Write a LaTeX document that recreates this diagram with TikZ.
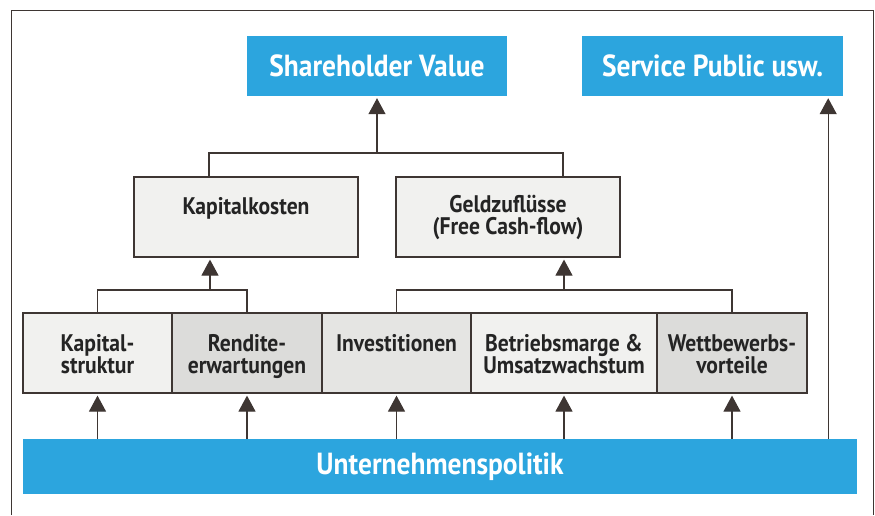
\documentclass[tikz,border=0pt]{standalone}
\usepackage{fontspec}
\newfontfamily\diafont[FakeStretch=0.9]{PT Sans}
\usetikzlibrary{arrows.meta}

\definecolor{svblue}{RGB}{44,165,222}
\definecolor{linecol}{RGB}{62,54,51}
\definecolor{lightfill}{RGB}{241,241,239}
\definecolor{midfill}{RGB}{229,229,227}
\definecolor{darkfill}{RGB}{220,220,218}
\definecolor{textcol}{RGB}{36,36,36}

\tikzset{
  bluebox/.style={fill=svblue, text=white, inner sep=0pt,
    font=\diafont\bfseries\fontsize{30.5}{32}\selectfont},
  graybox/.style={draw=linecol, line width=1.2pt, fill=lightfill, text=textcol,
    inner sep=0pt, align=center, font=\diafont\bfseries\fontsize{24}{22}\selectfont},
  rowbox/.style={graybox, minimum height=80, text height=46pt, text depth=6pt},
  link/.style={draw=linecol, line width=1.2pt},
  tri/.style={link, -{Triangle[width=17pt,length=16pt]}, shorten >=2pt},
}

\begin{document}
\begin{tikzpicture}[x=1pt,y=1pt,yscale=-1]
  \useasboundingbox (0,0) rectangle (875,515);

  %Frame
  \draw [linecol, line width=1pt] (11,515) -- (11,10) -- (873,10) -- (873,515);

  % Text Node
  \node [bluebox, minimum width=260, minimum height=60] (sv) at (377,66) {Shareholder Value};
  % Text Node
  \node [bluebox, minimum width=261, minimum height=60] (sp) at (712.5,66) {Service Public usw.};

  % Text Node
  \node [graybox, minimum width=224, minimum height=80] (kk) at (246,217) {Kapitalkosten\\~};
  % Text Node
  \node [graybox, minimum width=224, minimum height=80] (gz) at (508,217) {Geldzufl\"usse\\(Free Cash-flow)};

  % Text Node
  \node [rowbox, minimum width=149] (ks) at (97.5,353) {Kapital-\\struktur};
  \node [rowbox, fill=darkfill, minimum width=150] (re) at (247,353) {Rendite-\\erwartungen};
  \node [rowbox, fill=midfill, minimum width=149] (inv) at (396.5,353) {Investitionen\\~};
  \node [rowbox, minimum width=186] (bm) at (564,353) {Betriebsmarge \&\\Umsatzwachstum};
  \node [rowbox, fill=darkfill, minimum width=150] (wb) at (732,353) {Wettbewerbs-\\vorteile};

  % Text Node
  \node [bluebox, minimum width=834, minimum height=55] (up) at (440,466.5) {Unternehmenspolitik};

  %Joints
  \coordinate (j1) at (377,153);
  \coordinate (j2) at (210,290);
  \coordinate (j3) at (564,290);
  \coordinate (spin) at ([xshift=-15pt]sp.south east);

  %Straight Lines
  \draw [link] ([xshift=-37pt]kk.north) |- (j1) -| ([xshift=55pt]gz.north);
  \draw [tri] (j1) -- (sv.south);
  \draw [link] (ks.north) |- (j2) -| (re.north);
  \draw [tri] (j2) -- (kk.south -| j2);
  \draw [link] (inv.north) |- (j3) -| (wb.north);
  \draw [tri] (j3) -- (gz.south -| j3);

  %Straight Lines
  \foreach \b in {ks,re,inv,bm,wb}
    \draw [tri] (up.north -| \b.south) -- (\b.south);
  \draw [tri] (up.north -| spin) -- (spin);

\end{tikzpicture}
\end{document}
